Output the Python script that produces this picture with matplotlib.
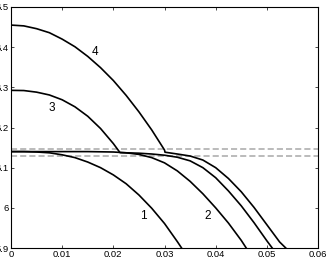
import matplotlib
matplotlib.use('Agg')
import matplotlib.pyplot as plt

plt.rcParams['font.family'] = ['Liberation Sans', 'DejaVu Sans']

# curve 1
x1 = [0, 0.0025, 0.005, 0.0075, 0.01, 0.0125, 0.015, 0.0175, 0.02, 0.0225,
      0.025, 0.0275, 0.03, 0.0325, 0.0335]
y1 = [6.140, 6.140, 6.139, 6.137, 6.132, 6.125, 6.114, 6.100, 6.082, 6.060,
      6.032, 5.999, 5.961, 5.916, 5.897]

# curve 2
x2 = [0, 0.005, 0.01, 0.015, 0.02, 0.0225, 0.025, 0.0275, 0.03, 0.0325,
      0.035, 0.0375, 0.04, 0.0425, 0.045, 0.0461]
y2 = [6.140, 6.140, 6.140, 6.140, 6.139, 6.137, 6.133, 6.125, 6.112, 6.092,
      6.066, 6.035, 6.000, 5.962, 5.919, 5.8975]

# curve 3
x3 = [0, 0.0025, 0.005, 0.0075, 0.01, 0.0125, 0.015, 0.0175, 0.02, 0.0213,
      0.0225, 0.025, 0.0275, 0.03, 0.0325, 0.035, 0.0375, 0.04, 0.0425,
      0.045, 0.0475, 0.05, 0.0512]
y3 = [6.2925, 6.292, 6.288, 6.281, 6.269, 6.2515, 6.228, 6.1975, 6.160, 6.1375,
      6.137, 6.136, 6.134, 6.131, 6.126, 6.117, 6.100, 6.075, 6.042,
      6.005, 5.963, 5.918, 5.8975]

# curve 4
x4 = [0, 0.0025, 0.005, 0.0075, 0.01, 0.0125, 0.015, 0.0175, 0.02, 0.0225,
      0.025, 0.0275, 0.03, 0.0301, 0.0325, 0.035, 0.0375, 0.04, 0.0425,
      0.045, 0.0475, 0.05, 0.0525, 0.0539]
y4 = [6.455, 6.453, 6.446, 6.436, 6.420, 6.401, 6.377, 6.349, 6.317, 6.280,
      6.239, 6.194, 6.144, 6.1385, 6.134, 6.129, 6.119, 6.100, 6.073,
      6.040, 6.001, 5.958, 5.915, 5.8975]

dash_levels = [6.147, 6.128]

labels = ['1', '2', '3', '4']
label_x = [0.0258, 0.0385, 0.0080, 0.0164]
label_y = [5.980, 5.980, 6.2475, 6.3875]

fig = plt.figure(figsize=(3.28, 2.59), dpi=100)
ax = fig.add_axes([11/328, 11/259, 307/328, 241/259])

for lev in dash_levels:
    ax.axhline(lev, color='#a8a8a8', linewidth=1.1, dashes=(4, 2))

for xs, ys in [(x1, y1), (x2, y2), (x3, y3), (x4, y4)]:
    ax.plot(xs, ys, color='black', linewidth=1.2)

for t, lx, ly in zip(labels, label_x, label_y):
    ax.text(lx, ly, t, fontsize=8.5, ha='center', va='center')

ax.set_xlim(0, 0.06)
ax.set_ylim(5.9, 6.5)
ax.set_xticks([0, 0.01, 0.02, 0.03, 0.04, 0.05, 0.06])
ax.set_xticklabels(['0', '0.01', '0.02', '0.03', '0.04', '0.05', '0.06'])
ax.set_yticks([5.9, 6.0, 6.1, 6.2, 6.3, 6.4, 6.5])
ax.set_yticklabels(['5.9', '6', '6.1', '6.2', '6.3', '6.4', '6.5'])
ax.tick_params(direction='in', length=2.2, width=0.5, labelsize=6.8, pad=1.5,
               top=True, right=True)
for sp in ax.spines.values():
    sp.set_linewidth(0.8)

fig.savefig('out.png', dpi=100)
